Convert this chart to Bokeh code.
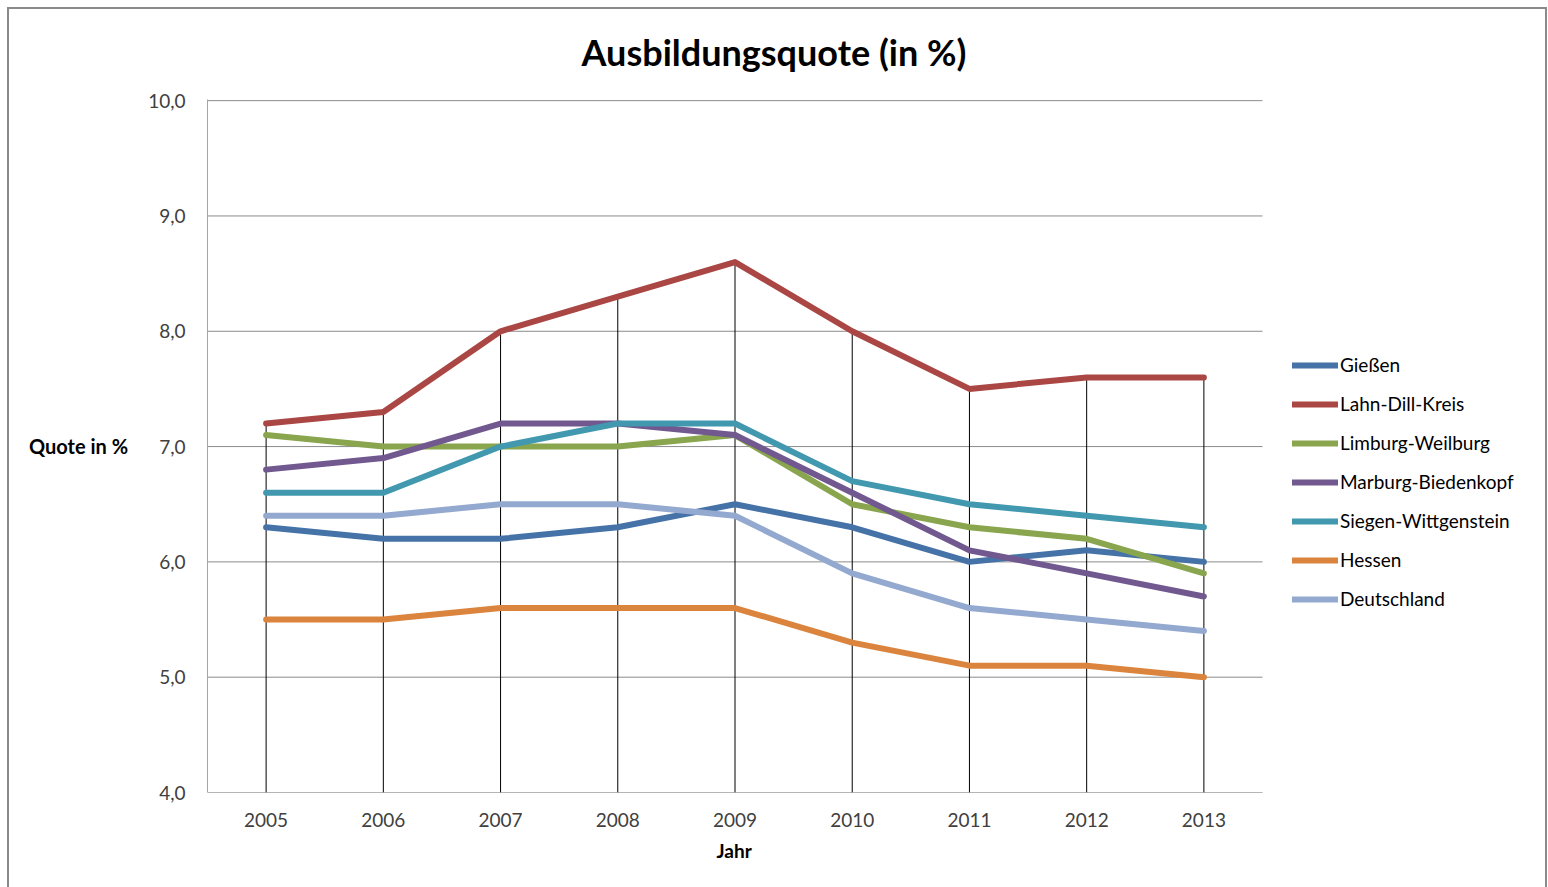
from bokeh.plotting import figure
from bokeh.models import (Legend, LegendItem, CustomJSTickFormatter, FixedTicker,
                          Range1d, ColumnDataSource, InlineStyleSheet, Title)
from bokeh.embed import file_html
from bokeh.resources import INLINE

years = ["2005", "2006", "2007", "2008", "2009", "2010", "2011", "2012", "2013"]

giessen = [6.3, 6.2, 6.2, 6.3, 6.5, 6.3, 6.0, 6.1, 6.0]
lahn_dill = [7.2, 7.3, 8.0, 8.3, 8.6, 8.0, 7.5, 7.6, 7.6]
limburg = [7.1, 7.0, 7.0, 7.0, 7.1, 6.5, 6.3, 6.2, 5.9]
marburg = [6.8, 6.9, 7.2, 7.2, 7.1, 6.6, 6.1, 5.9, 5.7]
siegen = [6.6, 6.6, 7.0, 7.2, 7.2, 6.7, 6.5, 6.4, 6.3]
hessen = [5.5, 5.5, 5.6, 5.6, 5.6, 5.3, 5.1, 5.1, 5.0]
deutschland = [6.4, 6.4, 6.5, 6.5, 6.4, 5.9, 5.6, 5.5, 5.4]

series_names = ["Gießen", "Lahn-Dill-Kreis", "Limburg-Weilburg", "Marburg-Biedenkopf",
                "Siegen-Wittgenstein", "Hessen", "Deutschland"]
series_values = [giessen, lahn_dill, limburg, marburg, siegen, hessen, deutschland]
colors = ["#4572A7", "#AA4643", "#89A54E", "#71588F", "#4198AF", "#DB843D", "#93A9CF"]

y_ticks = [4, 5, 6, 7, 8, 9, 10]
y_min, y_max = 4, 10

FONT = "Lato"

# category positions 1..n ; the plotting area ends half a category after the last year,
# the frame continues to the right so the legend can sit inside it
xpos = list(range(1, len(years) + 1))
cat_px = (1262 - 207) / len(years)
W, H = 1548, 887
LEFT, RIGHT_MARGIN, TOP, BOTTOM = 207, 10, 99, 95
x_end = 0.5 + (W - RIGHT_MARGIN - LEFT) / cat_px

p = figure(x_range=Range1d(0.5, x_end), y_range=Range1d(y_min, y_max + 0.01),
           width=W, height=H, output_backend="svg", toolbar_location=None,
           min_border_left=LEFT, min_border_right=RIGHT_MARGIN,
           min_border_top=TOP, min_border_bottom=BOTTOM)

# title
p.title.text = "Ausbildungsquote (in %)"
p.title.align = "left"
p.title.offset = 374
p.title.text_font = FONT
p.title.text_font_size = "36px"
p.title.text_font_style = "bold"
p.title.text_color = "#000000"
p.title.standoff = 52

p.outline_line_color = None
p.background_fill_color = "white"
p.border_fill_color = "white"

# axes
p.yaxis.ticker = FixedTicker(ticks=y_ticks)
p.yaxis.formatter = CustomJSTickFormatter(code="return tick.toFixed(1).replace('.', ',');")
p.xaxis.ticker = FixedTicker(ticks=xpos)
p.xaxis.major_label_overrides = {x: y for x, y in zip(xpos, years)}
for ax in (p.xaxis[0], p.yaxis[0]):
    ax.axis_line_color = "#A6A6A6"
    ax.axis_line_width = 1
    ax.major_tick_line_color = None
    ax.minor_tick_line_color = None
    ax.major_tick_out = 0
    ax.major_tick_in = 0
    ax.minor_tick_out = 0
    ax.major_label_text_font = FONT
    ax.major_label_text_font_size = "19px"
    ax.major_label_text_color = "#404040"
    ax.axis_label_text_font = FONT
    ax.axis_label_text_font_size = "20px"
    ax.axis_label_text_font_style = "bold"
    ax.axis_label_text_color = "#000000"
p.xaxis.axis_line_color = None
p.yaxis.major_label_standoff = 22
p.xaxis.major_label_standoff = 20
p.yaxis.axis_label = "Quote in %"
p.yaxis.axis_label_orientation = "horizontal"
p.yaxis.axis_label_standoff = 17

# x axis title, centred under the plot area
p.add_layout(Title(text="Jahr", align="left", offset=509, standoff=15,
                   text_font=FONT, text_font_size="19px", text_font_style="bold",
                   text_color="#000000"), "below")

# horizontal gridlines and category axis line, limited to the plot area
p.xgrid.grid_line_color = None
p.ygrid.grid_line_color = None
x_lo, x_hi = 0.5, len(years) + 0.5
p.segment(x0=[x_lo] * len(y_ticks), y0=y_ticks, x1=[x_hi] * len(y_ticks), y1=y_ticks,
          line_color="#8C8C8C", line_width=1)
p.segment(x0=[x_lo], y0=[y_min], x1=[x_hi], y1=[y_min], line_color="#A6A6A6", line_width=1)

# drop lines from the highest value down to the axis
tops = [max(vals) for vals in zip(*series_values)]
p.segment(x0=xpos, y0=[y_min] * len(years), x1=xpos, y1=tops, line_color="black", line_width=1)

items = []
for name, vals, col in zip(series_names, series_values, colors):
    src = ColumnDataSource(dict(x=xpos, year=years, y=vals))
    r = p.line("x", "y", source=src, line_color=col, line_width=6,
               line_cap="round", line_join="round")
    items.append(LegendItem(label=name, renderers=[r]))

legend = Legend(items=items, location=(1085, 182), padding=0, margin=0,
                border_line_color=None, background_fill_alpha=0,
                glyph_width=46, glyph_height=20, label_height=20, spacing=16,
                label_standoff=2, label_text_font=FONT, label_text_font_size="19px",
                label_text_color="#000000")
p.add_layout(legend, "center")

# outer chart border (left, top, right; bottom edge is cut off as in the reference)
p.stylesheets = [InlineStyleSheet(css="""
:host { position: relative; }
:host::after {
  content: ''; position: absolute; left: 7px; top: 7px; right: 1px; bottom: 0px;
  border: 2px solid #8A8A8A; border-bottom: none; pointer-events: none; z-index: 100;
}
""")]

open("out.html", "w").write(file_html(p, INLINE))
